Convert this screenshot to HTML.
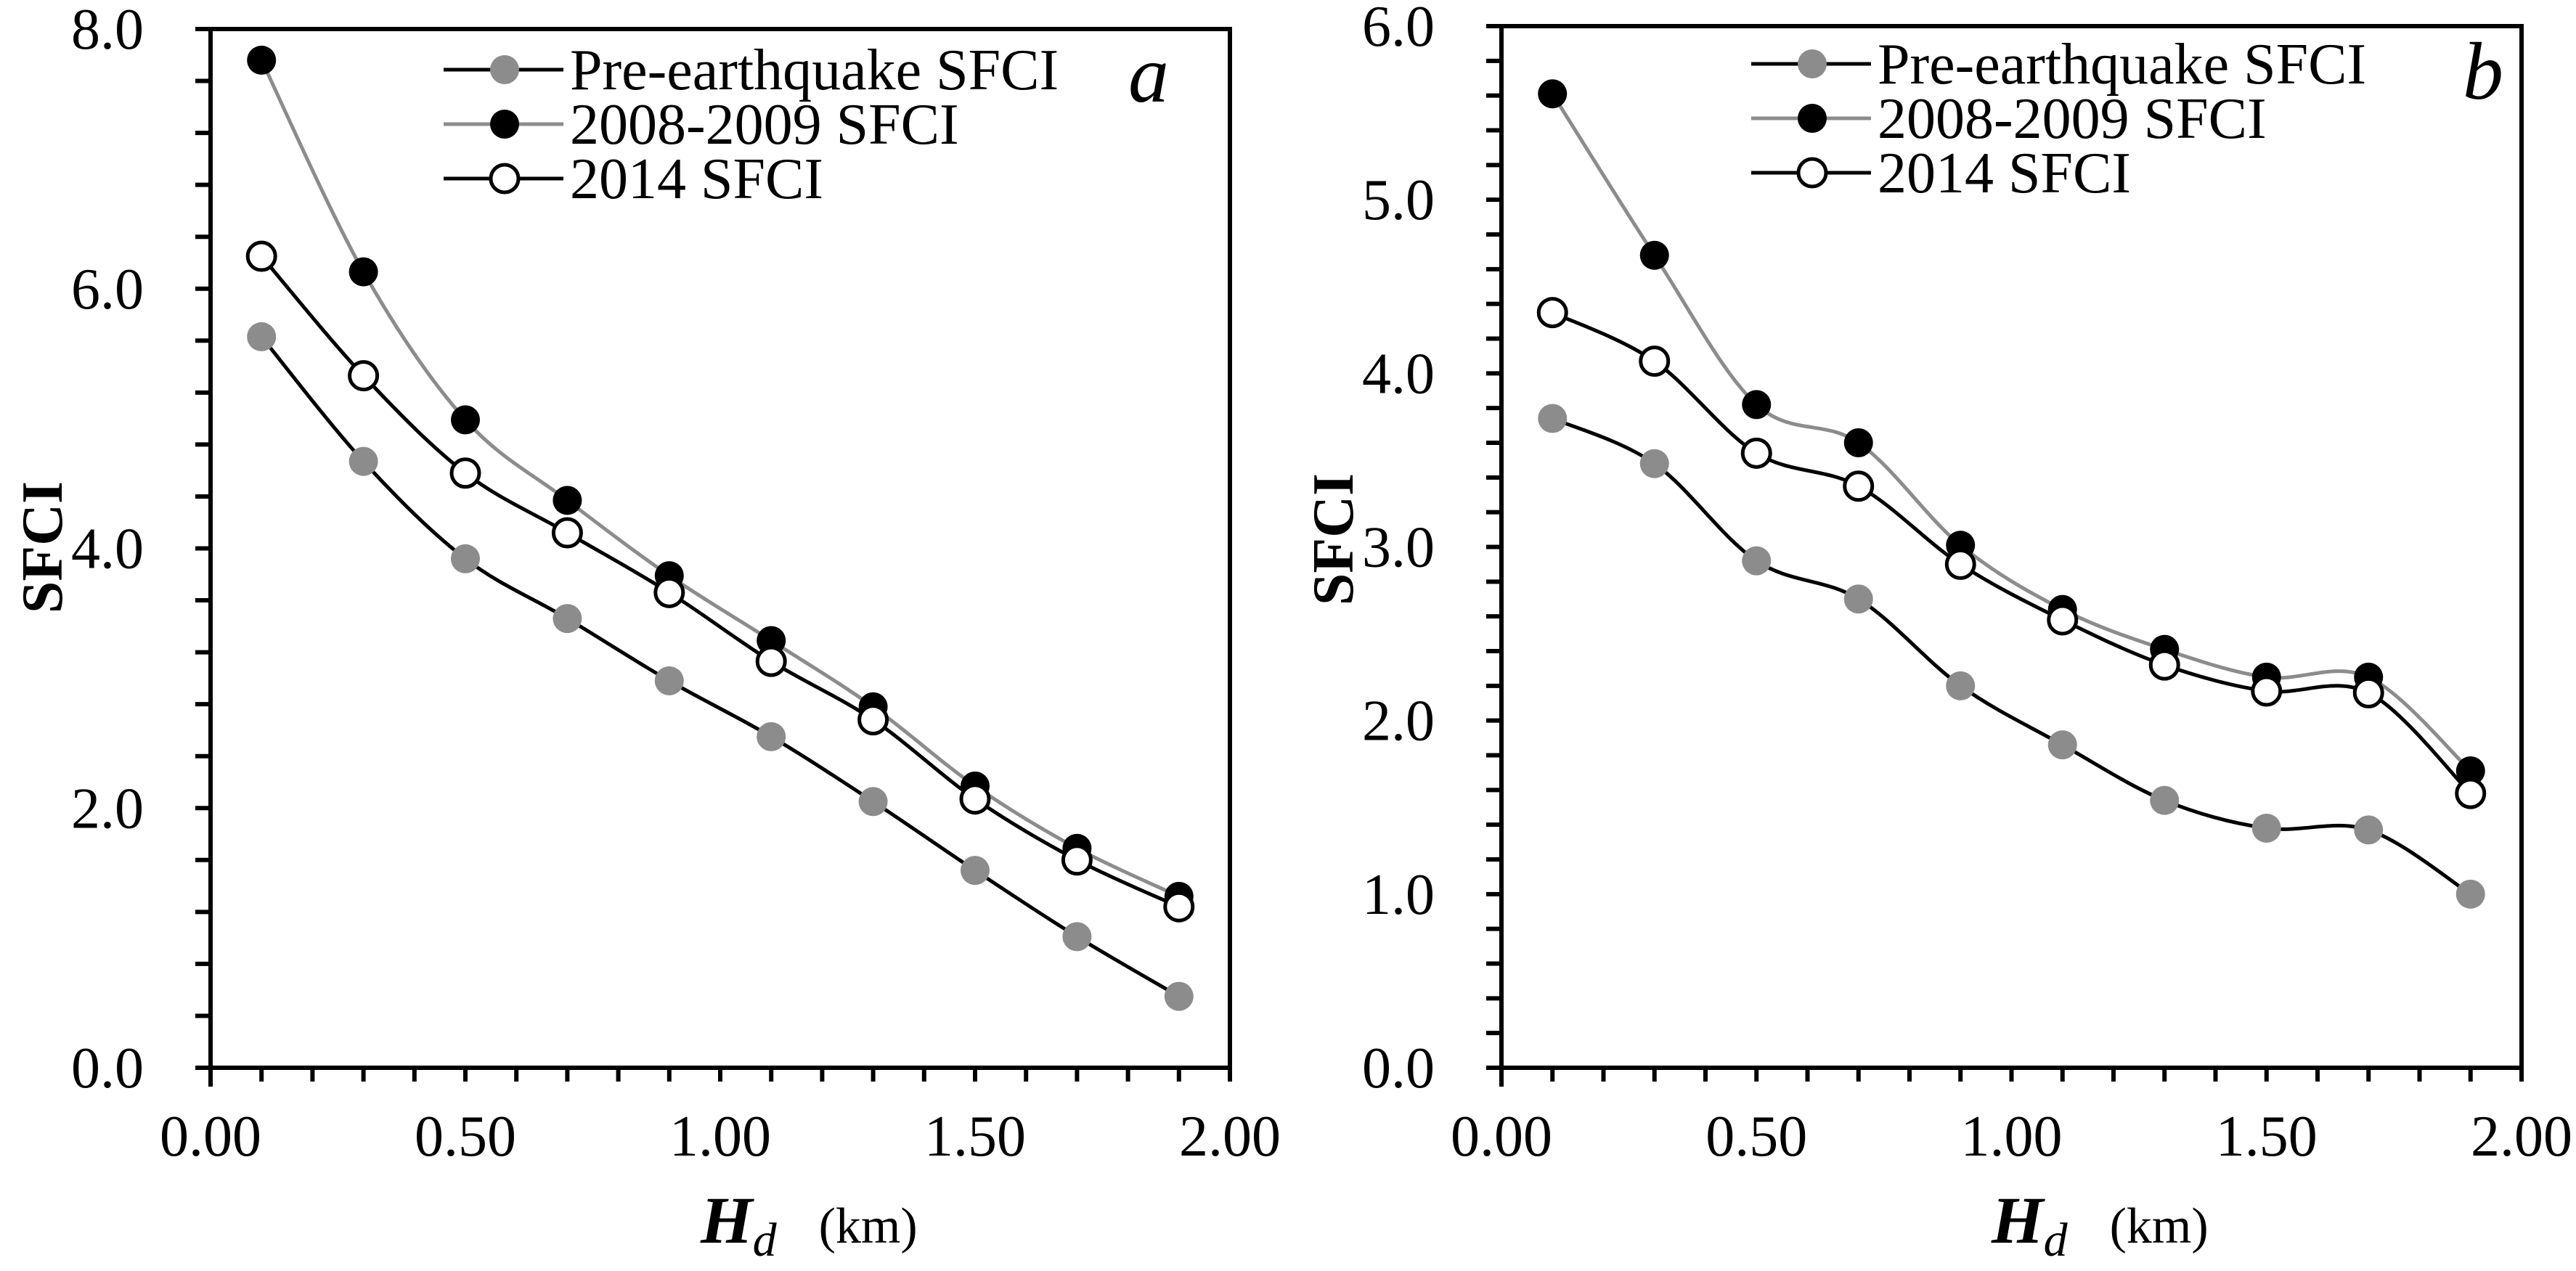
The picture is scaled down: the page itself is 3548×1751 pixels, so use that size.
<!DOCTYPE html>
<html><head><meta charset="utf-8"><style>
html,body{margin:0;padding:0;background:#fff;}
svg text{font-family:"Liberation Serif",serif;fill:#000;}
</style></head><body>
<svg id="chart" width="3548" height="1746" viewBox="0 0 3548 1746" xmlns="http://www.w3.org/2000/svg"></svg>
<script>
const xValues = [0.1,0.3,0.5,0.7,0.9,1.1,1.3,1.5,1.7,1.9];
const aPre = [5.63,4.67,3.92,3.46,2.98,2.55,2.05,1.52,1.01,0.55];
const a0809 = [7.76,6.13,4.99,4.37,3.79,3.29,2.78,2.17,1.69,1.32];
const a2014 = [6.25,5.33,4.58,4.12,3.66,3.13,2.68,2.07,1.60,1.24];
const bPre = [3.74,3.48,2.92,2.70,2.20,1.86,1.54,1.38,1.37,1.00];
const b0809 = [5.61,4.68,3.82,3.60,3.01,2.64,2.41,2.25,2.25,1.71];
const b2014 = [4.35,4.07,3.54,3.35,2.90,2.58,2.32,2.17,2.16,1.58];
const xTickLabels = ["0.00","0.50","1.00","1.50","2.00"];
const aYTickLabels = ["0.0","2.0","4.0","6.0","8.0"];
const bYTickLabels = ["0.0","1.0","2.0","3.0","4.0","5.0","6.0"];
const seriesNames = ["Pre-earthquake SFCI","2008-2009 SFCI","2014 SFCI"];

const NS="http://www.w3.org/2000/svg";
const svg=document.getElementById('chart');
const GRAY="#8c8c8c";
function el(tag,attrs,parent){const e=document.createElementNS(NS,tag);for(const k in attrs)e.setAttribute(k,attrs[k]);(parent||svg).appendChild(e);return e;}

function panel(opt){
  const g=el('g',{});
  
  
  const L=opt.left,R=opt.right,T=opt.top,B=opt.bottom;
  const xs=v=>L+(v/2)*(R-L);
  const ys=v=>B-(v/opt.ymax)*(B-T);
  const frame=el('rect',{x:L,y:T,width:R-L,height:B-T,fill:'none',stroke:'#000','stroke-width':6},g);
  
  
  for(let i=0;i<=20;i++){
    const x=xs(i*0.1);
    const t=el('line',{x1:x,x2:x,y1:B,y2:B+(i==0?26:19),stroke:'#000','stroke-width':6},g);
    
    
  }
  xTickLabels.forEach((lab,i)=>{
    const t=el('text',{x:xs(i*0.5),y:B+121,'font-size':80,'text-anchor':'middle'},g);
    t.textContent=lab;
    
    
  });
  const n=Math.round(opt.ymax/opt.minor);
  for(let i=0;i<=n;i++){
    const y=ys(i*opt.minor);
    const t=el('line',{x1:L-21,x2:L,y1:y,y2:y,stroke:'#000','stroke-width':6},g);
    
    
  }
  opt.yLabels.forEach((lab,i)=>{
    const t=el('text',{x:L-92,y:ys(i*opt.major)+27,'font-size':80,'text-anchor':'end'},g);
    t.textContent=lab;
    
    
  });
  const yt=el('text',{x:0,y:0,'font-size':80,'font-weight':'bold','text-anchor':'middle',transform:`translate(${L-205},${opt.ytitleY}) rotate(-90)`},g);
  yt.textContent='SFCI';
  
  
  const xt=el('text',{x:L+675,y:1712,'font-size':92},g);
  
  
  const h=el('tspan',{'font-weight':'bold','font-style':'italic'},xt);h.textContent='H';
  const d=el('tspan',{'font-style':'italic','font-size':66,dy:18},xt);d.textContent='d';
  const km=el('tspan',{'font-size':70,dy:-18,dx:58},xt);km.textContent='(km)';
  const series=[
    {vals:opt.pre,line:'#000',fill:GRAY,stroke:GRAY,name:'pre-earthquake'},
    {vals:opt.s0809,line:GRAY,fill:'#000',stroke:'#000',name:'2008-2009'},
    {vals:opt.s2014,line:'#000',fill:'#fff',stroke:'#000',name:'2014',open:true}
  ];
  series.forEach(s=>{
    const p=s.vals.map((v,i)=>[xs(xValues[i]),ys(v)]);
    let dstr=`M${p[0][0]},${p[0][1]}`;
    for(let i=0;i<p.length-1;i++){
      const p0=p[Math.max(0,i-1)],p1=p[i],p2=p[i+1],p3=p[Math.min(p.length-1,i+2)];
      const c1=[p1[0]+(p2[0]-p0[0])/6,p1[1]+(p2[1]-p0[1])/6];
      const c2=[p2[0]-(p3[0]-p1[0])/6,p2[1]-(p3[1]-p1[1])/6];
      dstr+=` C${c1[0]},${c1[1]} ${c2[0]},${c2[1]} ${p2[0]},${p2[1]}`;
    }
    const path=el('path',{d:dstr,fill:'none',stroke:s.line,'stroke-width':5},g);
    
    
  });
  series.forEach(s=>{
    s.vals.forEach((v,i)=>{
      const c=el('circle',{cx:xs(xValues[i]),cy:ys(v),r:s.open?19:20,fill:s.fill,stroke:s.stroke,'stroke-width':s.open?5:0},g);
      
      
    });
  });
  const lg=el('g',{},g);
  
  
  series.forEach((s,i)=>{
    const y=opt.legY+i*75;
    const ln=el('line',{x1:opt.legX,x2:opt.legX+165,y1:y,y2:y,stroke:s.line,'stroke-width':5},lg);
    
    
    const c=el('circle',{cx:opt.legX+84,cy:y,r:s.open?19:20,fill:s.fill,stroke:s.stroke,'stroke-width':s.open?5:0},lg);
    
    
    const t=el('text',{x:opt.legX+174,y:y+27,'font-size':80},lg);
    t.textContent=seriesNames[i];
    
    
  });
  const pl=el('text',{x:opt.labelX,y:opt.top+100,'font-size':112,'font-style':'italic','text-anchor':'middle'},g);
  pl.textContent=opt.label;
  
  
}
panel({name:'panel-a',left:290,right:1694,top:40,bottom:1471,ymax:8,minor:0.4,major:2,yLabels:aYTickLabels,
  pre:aPre,s0809:a0809,s2014:a2014,legX:611,legY:96,label:'a',labelX:1582,ytitleY:754});
panel({name:'panel-b',left:2068,right:3473,top:36,bottom:1471,ymax:6,minor:0.2,major:1,yLabels:bYTickLabels,
  pre:bPre,s0809:b0809,s2014:b2014,legX:2412,legY:88,label:'b',labelX:3420,ytitleY:743});
</script>
</body></html>
